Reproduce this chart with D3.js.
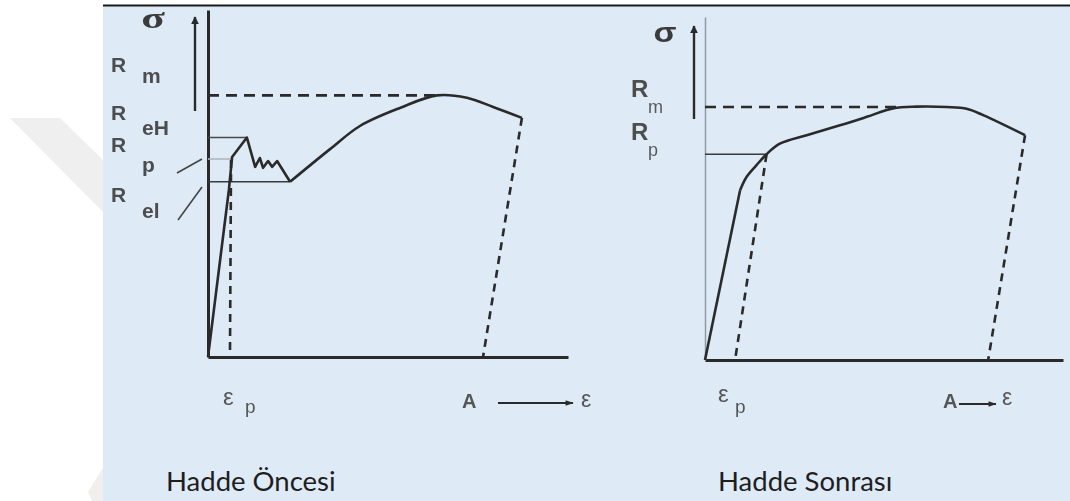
<!DOCTYPE html>
<html>
<head>
<meta charset="utf-8">
<script src="https://cdn.jsdelivr.net/npm/d3@7"></script>
<style>
  html, body { margin: 0; padding: 0; background: #fff; }
  svg { display: block; }
</style>
</head>
<body>
<svg id="chart" width="1070" height="501"></svg>
<script>
// ---- data (strain, stress in relative units) ----
// Before rolling: elastic rise, upper yield point and serrated yield zone
const beforeYielding = [
  [0, 0], [5.8, 49.1], [6.7, 58.8], [10.8, 64.5], [13.1, 55.9], [14.4, 58.5],
  [15.3, 55.6], [16.7, 57.6], [17.8, 55.9], [19.2, 57.6], [22.8, 51.5]
];
// ... followed by strain hardening up to fracture
const beforeHardening = [
  [22.8, 51.5], [33.9, 61.1], [42.2, 67.9], [53.3, 73.2], [63.6, 76.9],
  [71.9, 76.2], [79.2, 73.5], [87.2, 70.3]
];
const beforeUnloadYield = [[6.4, 57.9], [6.1, 0]];
const beforeUnloadBreak = [[87.2, 70.3], [76.4, 0]];
const beforeLevelNames = ["m", "eH", "p", "el"];
const beforeLevelValues = [76.9, 64.5, 58.2, 51.5];
const beforeLevelEnds = [63.6, 10.8, 6.7, 22.8];

// After rolling: straight elastic part, then continuous yielding
const afterElastic = [[0, 0], [9.8, 50.0]];
const afterHardening = [
  [9.8, 50.0], [11.6, 53.9], [14.4, 57.4], [17.2, 60.6], [20.9, 63.7],
  [28.4, 66.2], [37.7, 69.1], [45.2, 71.6], [52.5, 74.1], [59.1, 74.6],
  [67.5, 74.5], [73.1, 74.0], [77.7, 72.1], [89.4, 66.2]
];
const afterUnloadYield = [[17.2, 60.6], [8.4, 0]];
const afterUnloadBreak = [[89.4, 66.2], [79.1, 0]];
const afterLevelNames = ["m", "p"];
const afterLevelValues = [74.5, 60.6];
const afterLevelEnds = [53.6, 17.2];

const captions = ["Hadde Öncesi", "Hadde Sonrası"];

// ---- drawing ----
const svg = d3.select("#chart");
const INK = "#2a2a2a";
const LABEL = "#4d4d4d";

const defs = svg.append("defs");
defs.append("filter").attr("id", "soft")
  .attr("x", "-5%").attr("y", "-5%").attr("width", "110%").attr("height", "110%")
  .append("feGaussianBlur").attr("stdDeviation", 0.55);
defs.append("marker").attr("id", "tip")
  .attr("viewBox", "0 0 10 10").attr("refX", 9).attr("refY", 5)
  .attr("markerWidth", 3.2).attr("markerHeight", 3.2)
  .attr("markerUnits", "strokeWidth").attr("orient", "auto")
  .append("path").attr("d", "M0,0 L10,5 L0,10 Z").attr("fill", INK);
defs.append("marker").attr("id", "tipLong")
  .attr("viewBox", "0 0 14 10").attr("refX", 13).attr("refY", 5)
  .attr("markerWidth", 5).attr("markerHeight", 2.6)
  .attr("markerUnits", "strokeWidth").attr("orient", "auto")
  .append("path").attr("d", "M0,0 L14,5 L0,10 Z").attr("fill", INK);

// faint watermark shapes on the white margin
svg.append("polygon")
  .attr("points", "10,118 60,118 103,160 103,212")
  .attr("fill", "#efefef");
svg.append("polygon")
  .attr("points", "88,492 103,468 103,501 92,501")
  .attr("fill", "#f1eeee");

// panel background and top rule
svg.append("rect").attr("x", 103).attr("y", 6).attr("width", 967).attr("height", 495)
  .attr("fill", "#deebf7");
svg.append("line").attr("x1", 103).attr("x2", 1070).attr("y1", 5.5).attr("y2", 5.5)
  .attr("stroke", "#1a1a1a").attr("stroke-width", 2);

function panel(cfg) {
  const x = d3.scaleLinear([0, 100], cfg.xRange);
  const y = d3.scaleLinear([0, cfg.yTop], cfg.yRange);
  const g = svg.append("g").attr("filter", "url(#soft)");
  const straight = d3.line().x(d => x(d[0])).y(d => y(d[1]));
  const smooth = d3.line().x(d => x(d[0])).y(d => y(d[1])).curve(d3.curveCatmullRom.alpha(0.5));

  // axes (no ticks)
  g.append("g").attr("transform", `translate(0,${y(0)})`)
    .call(d3.axisBottom(x).tickValues([]).tickSizeOuter(0))
    .select(".domain").attr("stroke", INK).attr("stroke-width", 3);
  g.append("g").attr("transform", `translate(${x(0)},0)`)
    .call(d3.axisLeft(y).tickValues([]).tickSizeOuter(0))
    .select(".domain").attr("stroke", cfg.yAxisColor).attr("stroke-width", cfg.yAxisWidth);

  // reference levels
  cfg.levelValues.forEach((v, i) => {
    const dashed = i === 0;
    g.append("line")
      .attr("x1", x(0)).attr("x2", x(cfg.levelEnds[i]))
      .attr("y1", y(v)).attr("y2", y(v))
      .attr("stroke", cfg.levelColors[i])
      .attr("stroke-width", dashed ? 2.6 : 1.6)
      .attr("stroke-dasharray", dashed ? "11,7" : null);
  });

  // unloading lines
  [cfg.unloadYield, cfg.unloadBreak].forEach(seg => {
    g.append("path").attr("d", straight(seg))
      .attr("fill", "none").attr("stroke", INK).attr("stroke-width", 2.6)
      .attr("stroke-dasharray", "8,6");
  });

  // stress-strain curve: polyline part and smooth part
  g.append("path").attr("d", straight(cfg.linearPart))
    .attr("fill", "none").attr("stroke", INK).attr("stroke-width", 2.6)
    .attr("stroke-linejoin", "round");
  g.append("path").attr("d", smooth(cfg.smoothPart))
    .attr("fill", "none").attr("stroke", INK).attr("stroke-width", 2.6)
    .attr("stroke-linejoin", "round");

  // sigma arrow
  g.append("line")
    .attr("x1", cfg.arrowX).attr("x2", cfg.arrowX)
    .attr("y1", cfg.arrowY[0]).attr("y2", cfg.arrowY[1])
    .attr("stroke", INK).attr("stroke-width", 2.4)
    .attr("marker-end", "url(#tip)");
  g.append("text").text("σ")
    .attr("transform", `translate(${cfg.sigma[0]},${cfg.sigma[1]}) scale(${cfg.sigma[2]},1)`)
    .attr("text-anchor", "middle")
    .attr("font-family", cfg.sigma[3]).attr("font-weight", "bold")
    .attr("font-size", cfg.sigma[4]).attr("fill", "#3a3a3a");

  // R labels
  cfg.levelNames.forEach((n, i) => {
    const t = g.append("text")
      .attr("x", cfg.rX).attr("y", cfg.rY[i])
      .attr("font-family", "Liberation Sans").attr("font-weight", "bold")
      .attr("font-size", cfg.rSize).attr("fill", LABEL);
    t.append("tspan").text("R");
    t.append("tspan").text(n)
      .attr("x", cfg.subX).attr("y", cfg.subY[i])
      .attr("font-size", cfg.subSize)
      .attr("font-weight", cfg.subWeight)
      .attr("fill", cfg.subColor);
  });

  // strain labels
  const lab = g.append("g").attr("font-family", "Liberation Sans").attr("fill", "#555");
  lab.append("text").text("ε").attr("x", cfg.epsP[0]).attr("y", cfg.epsP[1])
    .attr("font-size", 24);
  lab.append("text").text("p").attr("x", cfg.epsP[2]).attr("y", cfg.epsP[3])
    .attr("font-size", 19);
  lab.append("text").text("A")
    .attr("x", cfg.aLabel[0]).attr("y", cfg.aLabel[1])
    .attr("font-size", 20).attr("font-weight", "bold");
  lab.append("line")
    .attr("x1", cfg.epsArrow[0]).attr("x2", cfg.epsArrow[1])
    .attr("y1", cfg.epsArrow[2]).attr("y2", cfg.epsArrow[2])
    .attr("stroke", INK).attr("stroke-width", 2.2)
    .attr("marker-end", "url(#tipLong)");
  lab.append("text").text("ε")
    .attr("x", cfg.epsEnd[0]).attr("y", cfg.epsEnd[1])
    .attr("font-size", 23);

  return { x, y, g };
}

// left panel: before rolling
const left = panel({
  xRange: [208, 568], yTop: 102, yRange: [357, 10],
  linearPart: beforeYielding, smoothPart: beforeHardening,
  yAxisColor: INK, yAxisWidth: 3,
  levelValues: beforeLevelValues, levelEnds: beforeLevelEnds,
  levelColors: [INK, "#4a4a4a", "#aeb7bf", "#3a3a3a"],
  unloadYield: beforeUnloadYield, unloadBreak: beforeUnloadBreak,
  arrowX: 195, arrowY: [111, 17],
  sigma: [153, 28, 1.45, "Liberation Serif", 30],
  levelNames: beforeLevelNames,
  rX: 111, rY: [72, 120, 152, 202], rSize: 21,
  subX: 142, subY: [83, 135, 172, 218], subSize: 21, subWeight: "bold", subColor: LABEL,
  epsP: [223, 405, 245, 413], aLabel: [462, 408], epsArrow: [498, 573, 403], epsEnd: [581, 407]
});
// leader lines from the R_p and R_el labels to the axis
left.g.append("line").attr("x1", 177).attr("y1", 173).attr("x2", 202).attr("y2", 159)
  .attr("stroke", "#444").attr("stroke-width", 1.6);
left.g.append("line").attr("x1", 178).attr("y1", 220).attr("x2", 202).attr("y2", 187)
  .attr("stroke", "#444").attr("stroke-width", 1.6);

// right panel: after rolling
panel({
  xRange: [705, 1063], yTop: 101, yRange: [360, 17],
  linearPart: afterElastic, smoothPart: afterHardening,
  yAxisColor: "#8f9aa3", yAxisWidth: 1.5,
  levelValues: afterLevelValues, levelEnds: afterLevelEnds,
  levelColors: [INK, "#3a3a3a"],
  unloadYield: afterUnloadYield, unloadBreak: afterUnloadBreak,
  arrowX: 694, arrowY: [119, 26],
  sigma: [665, 42, 1.2, "Liberation Sans", 28],
  levelNames: afterLevelNames,
  rX: 631, rY: [97, 140], rSize: 24,
  subX: 648, subY: [113, 156], subSize: 18, subWeight: "normal", subColor: "#5a5a5a",
  epsP: [718, 402, 735, 413], aLabel: [943, 408], epsArrow: [959, 996, 404], epsEnd: [1002, 405]
});

// captions
svg.append("g").selectAll("text").data(captions).join("text")
  .text(d => d)
  .attr("x", (d, i) => [166, 718][i]).attr("y", 491)
  .attr("font-family", "Lato").attr("font-size", 27.5).attr("fill", "#1e1e1e");
</script>
</body>
</html>
